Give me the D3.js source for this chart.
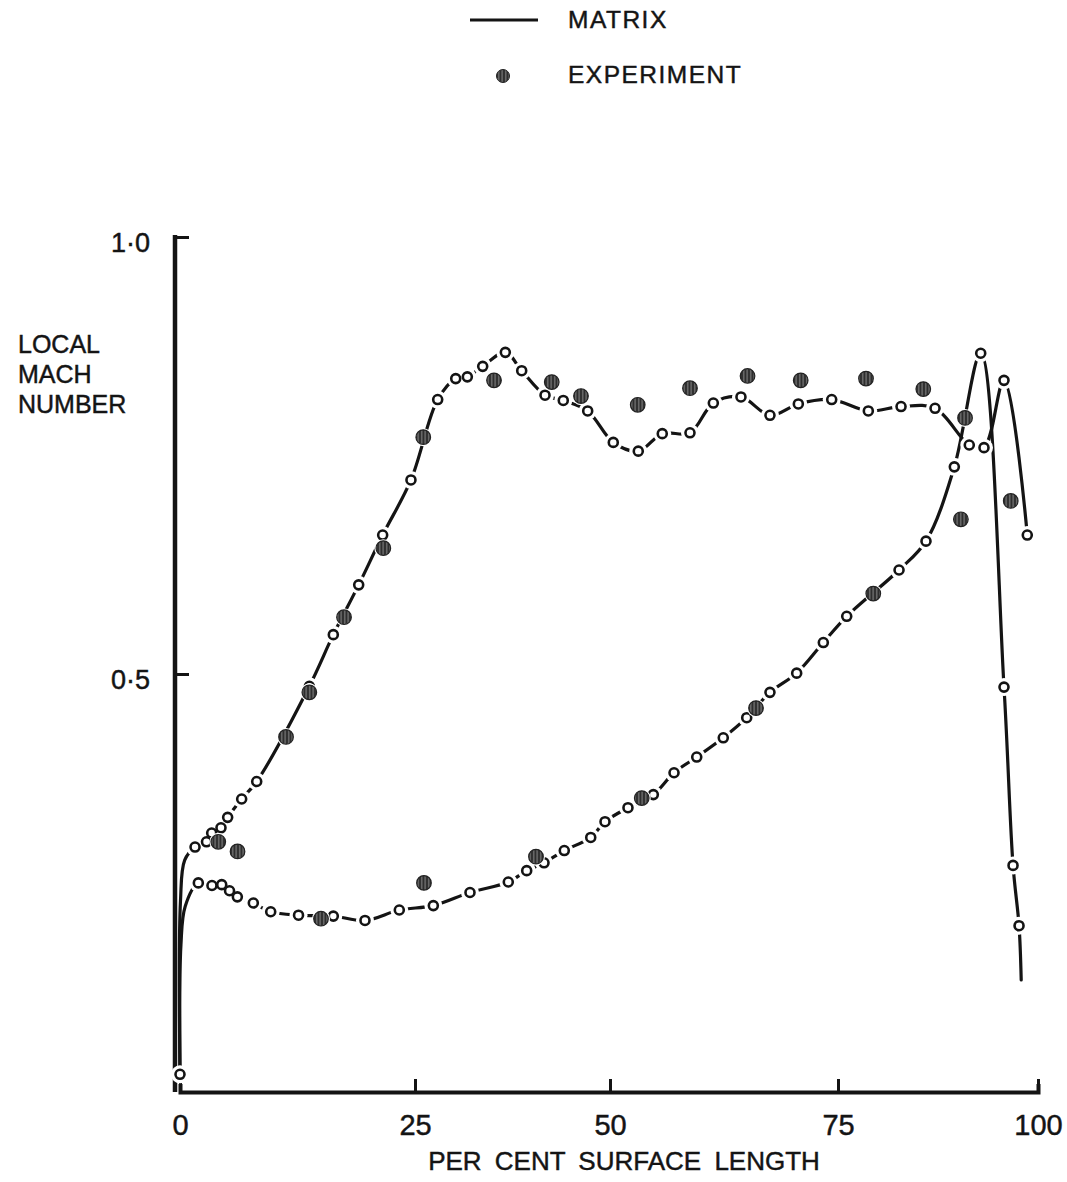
<!DOCTYPE html>
<html>
<head>
<meta charset="utf-8">
<script src="https://cdn.jsdelivr.net/npm/d3@7"></script>
<style>
  html, body { margin: 0; padding: 0; background: #fff; }
  svg { display: block; }
</style>
</head>
<body>
<svg id="chart" width="1067" height="1182"></svg>
<script>
// ---- data: [per cent surface length, local Mach number] ----
const xTicks = [0, 25, 50, 75, 100];
const xTickLabels = ["0", "25", "50", "75", "100"];
const yTicks = [0.5, 1.0];
const yTickLabels = ["0·5", "1·0"];

// stagnation point shared by both surfaces
const stagnation = [0, 0.042];

// line-only points where the curves leave the leading edge / run off the trailing edge
const upperLeadIn = [[0.05, 0.24], [0.5, 0.287]];
const lowerLeadIn = [[0.1, 0.19], [0.55, 0.234]];
const lowerTrail = [[97.9, 0.15]];

// matrix solution, upper surface
const matrixUpper = [
  [1.60, 0.302], [2.82, 0.308], [3.37, 0.318], [4.36, 0.324], [5.07, 0.336],
  [6.56, 0.357], [8.16, 0.377], [13.76, 0.486], [16.31, 0.545], [19.01, 0.602],
  [21.56, 0.659], [24.57, 0.722], [27.91, 0.814], [30.22, 0.838], [31.71, 0.840],
  [33.68, 0.852], [36.58, 0.868], [38.68, 0.847], [41.67, 0.819], [44.01, 0.813],
  [47.14, 0.801], [50.36, 0.765], [53.10, 0.755], [55.73, 0.775], [58.77, 0.776],
  [61.33, 0.810], [64.36, 0.817], [67.54, 0.796], [70.65, 0.809], [74.31, 0.814],
  [78.79, 0.801], [82.88, 0.806], [87.13, 0.804], [91.41, 0.762], [93.25, 0.759],
  [95.75, 0.836], [98.66, 0.659]
];

// matrix solution, lower surface
const matrixLower = [
  [1.95, 0.261], [3.40, 0.258], [4.44, 0.259], [5.27, 0.252], [6.10, 0.245],
  [7.80, 0.238], [9.65, 0.228], [12.61, 0.224], [16.31, 0.223], [19.68, 0.218],
  [23.33, 0.230], [27.35, 0.235], [32.05, 0.250], [36.96, 0.262], [39.32, 0.275],
  [41.54, 0.284], [44.14, 0.298], [47.53, 0.313], [49.36, 0.331], [51.97, 0.347],
  [54.75, 0.362], [57.02, 0.387], [59.51, 0.405], [62.42, 0.427], [64.99, 0.450],
  [67.54, 0.479], [70.47, 0.501], [73.39, 0.536], [76.09, 0.566], [82.63, 0.619],
  [86.00, 0.652], [89.54, 0.737], [92.84, 0.867], [95.75, 0.485], [96.88, 0.281],
  [97.63, 0.212]
];

// experiment
const experiment = [
  [4.07, 0.308], [6.12, 0.297], [11.28, 0.428], [13.76, 0.479], [17.45, 0.565],
  [21.63, 0.644], [26.06, 0.771], [35.13, 0.836], [42.53, 0.834], [46.28, 0.818],
  [53.04, 0.808], [58.77, 0.827], [65.08, 0.841], [70.91, 0.836], [78.50, 0.838],
  [85.66, 0.826], [90.88, 0.793], [96.59, 0.698], [90.36, 0.677], [79.41, 0.592],
  [66.01, 0.461], [53.48, 0.358], [40.51, 0.291], [26.15, 0.261], [15.00, 0.220]
];

// ---- layout ----
const INK = "#141414";
const FONT = "'Liberation Sans', Arial, sans-serif";
const svg = d3.select("#chart");

const x = d3.scaleLinear().domain(xTicks).range([180, 415, 610, 838, 1038]);
const y = d3.scaleLinear().domain([0, 1]).range([1111, 237]);
const baseY = 1092;   // drawn position of the abscissa
const axisX = 175;    // drawn position of the ordinate

// lettering is drawn slightly heavier than the plain face
function ink(sel) {
  return sel.attr("fill", INK).attr("stroke", INK).attr("stroke-width", 0.45);
}

// hatched fill for the experimental points
const defs = svg.append("defs");
const pat = defs.append("pattern").attr("id", "hatch")
  .attr("patternUnits", "userSpaceOnUse").attr("width", 3.5).attr("height", 3.5);
pat.append("rect").attr("width", 3.5).attr("height", 3.5).attr("fill", "#2e2e2e");
pat.append("rect").attr("x", 1.2).attr("width", 1).attr("height", 3.5).attr("fill", "#8c8c8c");

// ---- axes ----
const xAxis = d3.axisBottom(x)
  .tickValues(xTicks)
  .tickFormat((d, i) => xTickLabels[i])
  .tickSizeInner(-13)
  .tickSizeOuter(-8)
  .tickPadding(22);
const gx = svg.append("g").attr("transform", `translate(0,${baseY})`).call(xAxis);
gx.select(".domain").attr("stroke", INK).attr("stroke-width", 4).attr("fill", "none");
gx.selectAll(".tick line").attr("stroke", INK).attr("stroke-width", 3);
gx.selectAll(".tick text").call(ink).attr("font-family", FONT).attr("font-size", 29);

const yAxis = d3.axisLeft(y)
  .tickValues(yTicks)
  .tickFormat((d, i) => yTickLabels[i])
  .tickSizeInner(-14)
  .tickSizeOuter(0)
  .tickPadding(25);
const gy = svg.append("g").attr("transform", `translate(${axisX},0)`).call(yAxis);
gy.select(".domain").remove();
gy.append("line").attr("x1", 0).attr("x2", 0)
  .attr("y1", y(1) - 2).attr("y2", baseY)
  .attr("stroke", INK).attr("stroke-width", 4.5);
gy.selectAll(".tick line").attr("stroke", INK).attr("stroke-width", 3);
gy.selectAll(".tick text").call(ink).attr("font-family", FONT).attr("font-size", 27)
  .attr("dy", "0.55em");

// axis titles
svg.append("text").attr("x", 624).attr("y", 1170).attr("text-anchor", "middle")
  .attr("font-family", FONT).attr("font-size", 26).attr("word-spacing", 6).call(ink)
  .text("PER CENT SURFACE LENGTH");

const yTitle = svg.append("text").attr("font-family", FONT).attr("font-size", 25).call(ink);
["LOCAL", "MACH", "NUMBER"].forEach((t, i) => {
  yTitle.append("tspan").attr("x", 18).attr("y", 353 + i * 30).text(t);
});

// ---- matrix curves ----
const line = d3.line()
  .x(d => x(d[0]))
  .y(d => y(d[1]))
  .curve(d3.curveCatmullRom.alpha(0.5));

const upperPath = [stagnation, ...upperLeadIn, ...matrixUpper];
const lowerPath = [stagnation, ...lowerLeadIn, ...matrixLower, ...lowerTrail];

svg.append("g").selectAll("path")
  .data([upperPath, lowerPath])
  .join("path")
  .attr("d", line)
  .attr("fill", "none")
  .attr("stroke", INK)
  .attr("stroke-width", 3.2)
  .attr("stroke-linejoin", "round")
  .attr("stroke-linecap", "round");

// open markers for the computed points, with a white gap round each
const computed = [stagnation, ...matrixUpper, ...matrixLower];
svg.append("g").selectAll("circle")
  .data(computed)
  .join("circle")
  .attr("cx", d => x(d[0])).attr("cy", d => y(d[1]))
  .attr("r", 9).attr("fill", "#fff");
svg.append("g").selectAll("circle")
  .data(computed)
  .join("circle")
  .attr("cx", d => x(d[0])).attr("cy", d => y(d[1]))
  .attr("r", 4.5).attr("fill", "#fff")
  .attr("stroke", INK).attr("stroke-width", 2.6);

// experimental points
const exp = svg.append("g");
exp.selectAll("circle.gap")
  .data(experiment)
  .join("circle").attr("class", "gap")
  .attr("cx", d => x(d[0])).attr("cy", d => y(d[1]))
  .attr("r", 9).attr("fill", "#fff");
exp.selectAll("circle.dot")
  .data(experiment)
  .join("circle").attr("class", "dot")
  .attr("cx", d => x(d[0])).attr("cy", d => y(d[1]))
  .attr("r", 7.3).attr("fill", "url(#hatch)")
  .attr("stroke", "#222").attr("stroke-width", 1.2);

// ---- legend ----
const legend = svg.append("g").attr("font-family", FONT).attr("font-size", 24.5)
  .attr("letter-spacing", 1.5);
legend.append("line").attr("x1", 470).attr("x2", 538).attr("y1", 20).attr("y2", 20)
  .attr("stroke", INK).attr("stroke-width", 3);
legend.append("text").attr("x", 568).attr("y", 28).call(ink).text("MATRIX");
legend.append("circle").attr("cx", 503).attr("cy", 76).attr("r", 6.5)
  .attr("fill", "url(#hatch)").attr("stroke", "#222").attr("stroke-width", 1);
legend.append("text").attr("x", 568).attr("y", 83).call(ink).text("EXPERIMENT");
</script>
</body>
</html>
